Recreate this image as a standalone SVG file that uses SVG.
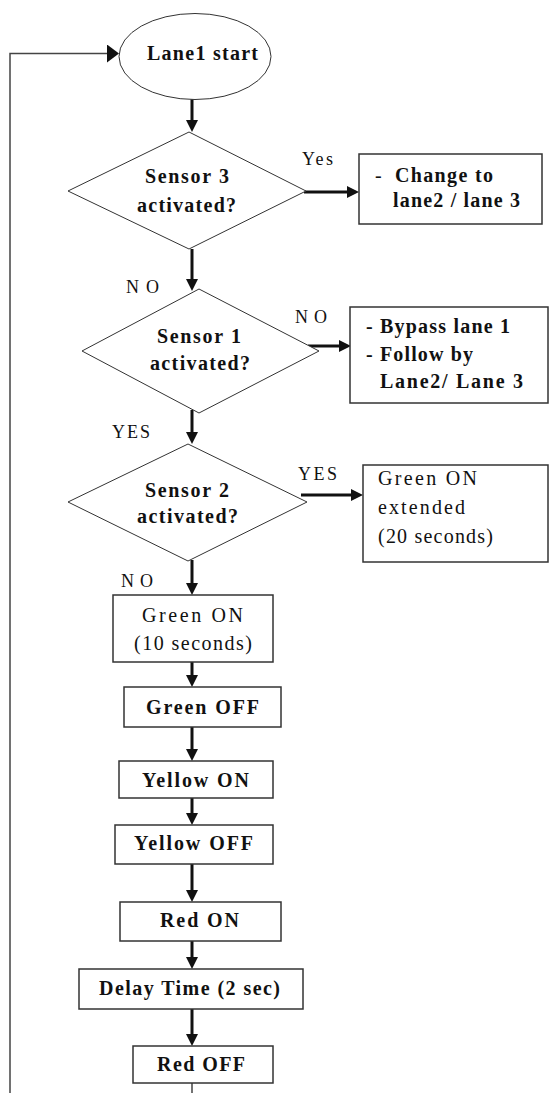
<svg xmlns="http://www.w3.org/2000/svg" width="549" height="1093" viewBox="0 0 549 1093">
<style>
  .shape { fill: #fff; stroke: #333; stroke-width: 1.5; }
  .dia { fill: #fff; stroke: #333; stroke-width: 1; }
  .conn { fill: none; stroke: #111; stroke-width: 3; }
  .thin { fill: none; stroke: #444; stroke-width: 1.5; }
  .b { font-family: "Liberation Serif", "Times New Roman", serif; font-size: 20px; font-weight: bold; fill: #111; }
  .r { font-family: "Liberation Serif", "Times New Roman", serif; font-size: 20px; fill: #111; }
  .lbl { font-family: "Liberation Serif", "Times New Roman", serif; font-size: 18px; fill: #111; }
</style>
<defs>
  <marker id="ah" markerUnits="userSpaceOnUse" markerWidth="12" markerHeight="12" refX="0" refY="6" orient="auto">
    <path d="M0,0 L12,6 L0,12 z" fill="#111"/>
  </marker>
  <marker id="ahLoop" markerUnits="userSpaceOnUse" markerWidth="12" markerHeight="18" refX="0" refY="9" orient="auto">
    <path d="M0,0 L12,9 L0,18 z" fill="#111"/>
  </marker>
</defs>
<rect width="549" height="1093" fill="#fff"/>

<g id="connectors">
  <polyline class="thin" points="10,1093 10,53.5 107,53.5" marker-end="url(#ahLoop)"/>
  <line class="conn" x1="192" y1="99" x2="192" y2="120" marker-end="url(#ah)"/>
  <line class="conn" x1="192" y1="249" x2="192" y2="279" marker-end="url(#ah)"/>
  <line class="conn" x1="192" y1="410" x2="192" y2="432" marker-end="url(#ah)"/>
  <line class="conn" x1="192" y1="560" x2="192" y2="583" marker-end="url(#ah)"/>
  <line class="conn" x1="192" y1="662" x2="192" y2="675" marker-end="url(#ah)"/>
  <line class="conn" x1="192" y1="727" x2="192" y2="749" marker-end="url(#ah)"/>
  <line class="conn" x1="192" y1="798" x2="192" y2="813" marker-end="url(#ah)"/>
  <line class="conn" x1="192" y1="864" x2="192" y2="890" marker-end="url(#ah)"/>
  <line class="conn" x1="192" y1="941" x2="192" y2="957" marker-end="url(#ah)"/>
  <line class="conn" x1="192" y1="1009" x2="192" y2="1034" marker-end="url(#ah)"/>
  <line class="thin" x1="192" y1="1083" x2="192" y2="1093"/>
  <line class="conn" x1="304" y1="192" x2="347" y2="192" marker-end="url(#ah)"/>
  <line class="conn" x1="308" y1="346" x2="339" y2="346" marker-end="url(#ah)"/>
  <line class="conn" x1="301" y1="495" x2="351" y2="495" marker-end="url(#ah)"/>
  <text class="lbl" x="302" y="165" textLength="31" lengthAdjust="spacing">Yes</text>
  <text class="lbl" x="126" y="293" textLength="33" lengthAdjust="spacing">NO</text>
  <text class="lbl" x="295" y="323" textLength="32" lengthAdjust="spacing">NO</text>
  <text class="lbl" x="112" y="438" textLength="38" lengthAdjust="spacing">YES</text>
  <text class="lbl" x="298" y="480" textLength="39" lengthAdjust="spacing">YES</text>
  <text class="lbl" x="121" y="587" textLength="32" lengthAdjust="spacing">NO</text>
</g>

<g id="start">
  <ellipse class="dia" cx="195" cy="56.5" rx="76" ry="43"/>
  <text class="b" x="147" y="60" textLength="111" lengthAdjust="spacing">Lane1 start</text>
</g>

<g id="sensor3">
  <polygon class="dia" points="189,132 306,191 189,249 68,191"/>
  <text class="b" x="145" y="183" textLength="84" lengthAdjust="spacing">Sensor 3</text>
  <text class="b" x="137" y="212" textLength="99" lengthAdjust="spacing">activated?</text>
</g>

<g id="change-lane">
  <rect class="shape" x="359" y="154" width="183" height="70"/>
  <text class="r" x="375" y="182">-</text>
  <text class="b" x="395" y="182" textLength="98" lengthAdjust="spacing">Change to</text>
  <text class="b" x="393" y="207" textLength="127" lengthAdjust="spacing">lane2 / lane 3</text>
</g>

<g id="sensor1">
  <polygon class="dia" points="199,289 319,351 199,413 82,351"/>
  <text class="b" x="157" y="343" textLength="84" lengthAdjust="spacing">Sensor 1</text>
  <text class="b" x="150" y="370" textLength="100" lengthAdjust="spacing">activated?</text>
</g>

<g id="bypass">
  <rect class="shape" x="350" y="307" width="198" height="96"/>
  <text class="b" x="366" y="333" textLength="144" lengthAdjust="spacing">- Bypass lane 1</text>
  <text class="b" x="366" y="361" textLength="107" lengthAdjust="spacing">- Follow by</text>
  <text class="b" x="380" y="388" textLength="143" lengthAdjust="spacing">Lane2/ Lane 3</text>
</g>

<g id="sensor2">
  <polygon class="dia" points="188,444 307,502 188,561 68,502"/>
  <text class="b" x="145" y="497" textLength="84" lengthAdjust="spacing">Sensor 2</text>
  <text class="b" x="137" y="523" textLength="101" lengthAdjust="spacing">activated?</text>
</g>

<g id="green-extended">
  <rect class="shape" x="363" y="465" width="185" height="97"/>
  <text class="r" x="378" y="485" textLength="99" lengthAdjust="spacing">Green ON</text>
  <text class="r" x="378" y="514" textLength="87" lengthAdjust="spacing">extended</text>
  <text class="r" x="378" y="543" textLength="115" lengthAdjust="spacing">(20 seconds)</text>
</g>

<g id="green-on">
  <rect class="shape" x="113" y="595" width="160" height="67"/>
  <text class="r" x="142" y="622" textLength="101" lengthAdjust="spacing">Green ON</text>
  <text class="r" x="134" y="650" textLength="118" lengthAdjust="spacing">(10 seconds)</text>
</g>

<g id="green-off">
  <rect class="shape" x="124" y="687" width="157" height="40"/>
  <text class="b" x="146" y="714" textLength="113" lengthAdjust="spacing">Green OFF</text>
</g>

<g id="yellow-on">
  <rect class="shape" x="119" y="761" width="154" height="37"/>
  <text class="b" x="142" y="787" textLength="107" lengthAdjust="spacing">Yellow ON</text>
</g>

<g id="yellow-off">
  <rect class="shape" x="115" y="825" width="158" height="39"/>
  <text class="b" x="134" y="850" textLength="119" lengthAdjust="spacing">Yellow OFF</text>
</g>

<g id="red-on">
  <rect class="shape" x="120" y="902" width="161" height="39"/>
  <text class="b" x="160" y="927" textLength="79" lengthAdjust="spacing">Red ON</text>
</g>

<g id="delay">
  <rect class="shape" x="79" y="969" width="224" height="40"/>
  <text class="b" x="99" y="995" textLength="181" lengthAdjust="spacing">Delay Time (2 sec)</text>
</g>

<g id="red-off">
  <rect class="shape" x="133" y="1046" width="140" height="37"/>
  <text class="b" x="157" y="1071" textLength="88" lengthAdjust="spacing">Red OFF</text>
</g>
</svg>
